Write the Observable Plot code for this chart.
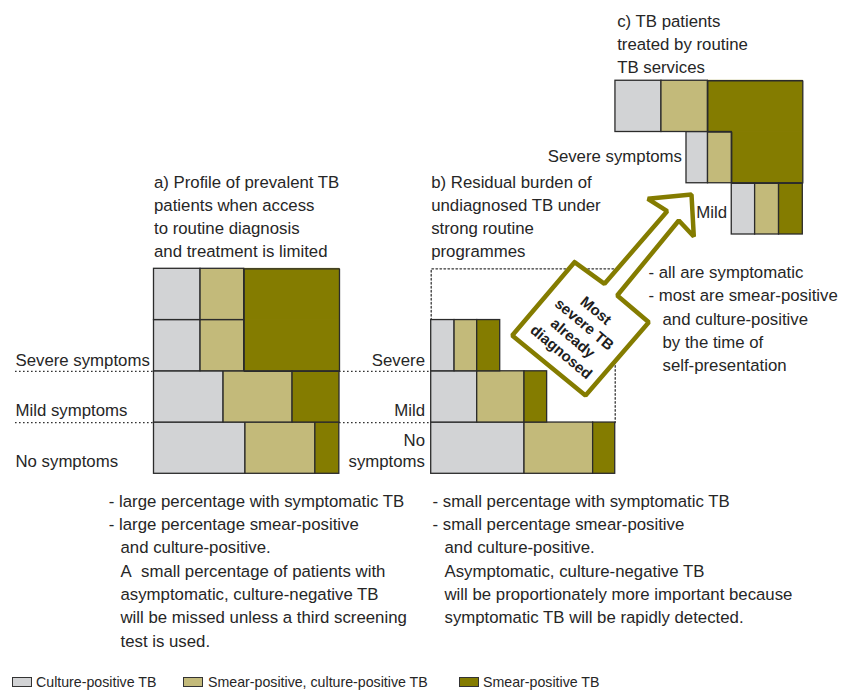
<!DOCTYPE html>
<html><head><meta charset="utf-8">
<script src="https://cdn.jsdelivr.net/npm/d3@7"></script>
<script src="https://cdn.jsdelivr.net/npm/@observablehq/plot@0.6"></script>
<style>
body{margin:0;background:#fff;font-family:'Liberation Sans',Arial,sans-serif;color:#262626}
#chart svg{display:block}
#legend{position:relative;width:848px;height:25px}
.sw{position:absolute;top:9px;width:20px;height:10px;box-sizing:border-box;border:1px solid #333}
.lt{position:absolute;top:6px;font-size:14.2px;line-height:17px;white-space:nowrap}
</style></head><body>
<div id="chart"></div>
<div id="legend"></div>
<script>
// ---------- DATA (widths as % of patients, per symptom row, bottom row first) ----------
const types = ["Culture-positive TB", "Smear-positive, culture-positive TB", "Smear-positive TB"];
const typeColors = ["#d2d3d5", "#c3ba7a", "#847c00"];

const rowsA = ["No symptoms", "Mild symptoms", "Severe symptoms", "Most severe"];
const aCulturePos      = [49.3, 37.5, 25.1, 25.1];
const aSmearCulturePos = [37.7, 37.2, 23.5, 23.5];
const aSmearPos        = [12.9, 25.3, 51.4, 51.4];

const rowsB = ["No symptoms", "Mild", "Severe"];
const bCulturePos      = [50.3, 24.8, 12.6];
const bSmearCulturePos = [37.0, 25.5, 12.2];
const bSmearPos        = [11.9, 12.2, 12.4];

const rowsC = ["Mild", "Severe symptoms", "Most severe"];
const cCulturePos      = [12.6, 11.6, 24.8];
const cSmearCulturePos = [12.9, 12.8, 25.0];
const cSmearPos        = [12.8, 38.3, 51.2];

// ---------- LAYOUT ----------
const W = 848, H = 668, XU = 1.855, YU = 51.25, Y0 = 473.3;
const X = px => px / XU, Y = py => (Y0 - py) / YU;
const olive = typeColors[2];
const ink = "#262626", edge = "#2b2b2b";

const panels = [
  {rows: rowsA, series: [aCulturePos, aSmearCulturePos, aSmearPos], align: "left", anchor: X(153.5), base: 0, merge: [2, 3]},
  {rows: rowsB, series: [bCulturePos, bSmearCulturePos, bSmearPos], align: "left", anchor: X(430.7), base: 0, merge: null},
  {rows: rowsC, series: [cCulturePos, cSmearCulturePos, cSmearPos], align: "right", anchor: X(802.3), base: Y(234), merge: [1, 2]}
];

const cells = [], outlines = [];
panels.forEach((p, pi) => {
  const rowCells = [];
  p.rows.forEach((r, i) => {
    const total = d3.sum(p.series, s => s[i]);
    let x = p.align === "left" ? p.anchor : p.anchor - total;
    const rc = [];
    p.series.forEach((s, k) => {
      const c = {panel: pi, row: r, type: types[k], x1: x, x2: x + s[i], y1: p.base + i, y2: p.base + i + 1,
                 merged: !!(p.merge && k === 2 && p.merge.includes(i))};
      cells.push(c); rc.push(c); x += s[i];
    });
    rowCells.push(rc);
  });
  p.rowCells = rowCells;
  if (p.merge) {
    const lo = rowCells[p.merge[0]][2], up = rowCells[p.merge[1]][2];
    [[up.x1, up.y2], [up.x2, up.y2], [lo.x2, lo.y1], [lo.x1, lo.y1], [lo.x1, lo.y2], [up.x1, up.y1], [up.x1, up.y2]]
      .forEach(([x, y]) => outlines.push({g: pi, x, y}));
  }
});

const bLeft = panels[1].anchor;
const bRight = d3.max(panels[1].rowCells, rc => rc[2].x2);
const dottedRules = [{y: 1, x1: X(15), x2: bLeft}, {y: 2, x1: X(15), x2: bLeft}];
const dottedBox = [{x: bLeft, y: 3}, {x: bLeft, y: 4}, {x: bRight, y: 4}, {x: bRight, y: 1}];

const arrowPx = [[574, 261.7], [604, 283.3], [666.7, 210.7], [647.3, 198.3], [691, 194], [693.3, 236],
                 [678.3, 220], [616.7, 295], [648.3, 321.7], [585, 395], [511.7, 335], [574, 261.7]];
const arrow = arrowPx.map(([px, py]) => ({x: X(px), y: Y(py)}));

const labels = [
  // panel titles
  [153.5, 187.3, "a) Profile of prevalent TB", "start"], [153.5, 210.4, "patients when access", "start"],
  [153.5, 233.5, "to routine diagnosis", "start"], [153.5, 256.6, "and treatment is limited", "start"],
  [430.7, 187.3, "b) Residual burden of", "start"], [430.7, 210.4, "undiagnosed TB under", "start"],
  [430.7, 233.5, "strong routine", "start"], [430.7, 256.6, "programmes", "start"],
  [616.7, 26, "c) TB patients", "start"], [616.7, 49.2, "treated by routine", "start"], [616.7, 72.4, "TB services", "start"],
  // row labels
  [15, 365, "Severe symptoms", "start"], [15, 415, "Mild symptoms", "start"], [15, 466, "No symptoms", "start"],
  [424.5, 365, "Severe", "end"], [424.5, 415, "Mild", "end"], [424.5, 445, "No", "end"], [424.5, 466.5, "symptoms", "end"],
  [681.5, 161.7, "Severe symptoms", "end"], [726.5, 217.5, "Mild", "end"],
  // right annotation
  [648, 277.5, "- all are symptomatic", "start"], [648, 300.8, "- most are smear-positive", "start"],
  [662, 324.1, "and culture-positive", "start"], [662, 347.4, "by the time of", "start"], [662, 370.7, "self-presentation", "start"],
  // bottom notes
  [108.3, 506, "- large percentage with symptomatic TB", "start"], [108.3, 529.3, "- large percentage smear-positive", "start"],
  [120, 552.7, "and culture-positive.", "start"], [120, 576, "A\u00a0 small percentage of patients with", "start"],
  [120, 599.3, "asymptomatic, culture-negative TB", "start"], [120, 622.7, "will be missed unless a third screening", "start"],
  [120, 646, "test is used.", "start"],
  [432, 506, "- small percentage with symptomatic TB", "start"], [432, 529.3, "- small percentage smear-positive", "start"],
  [444, 552.7, "and culture-positive.", "start"], [444, 576, "Asymptomatic, culture-negative TB", "start"],
  [444, 599.3, "will be proportionately more important because", "start"],
  [444, 622.7, "symptomatic TB will be rapidly detected.", "start"]
].map(([px, py, text, anchor]) => ({x: X(px), y: Y(py), text, anchor}));

const boxText = [{x: X(578.6), y: Y(330.2), text: "Most\nsevere TB\nalready\ndiagnosed"}];

const chart = Plot.plot({
  width: W, height: H, margin: 0,
  style: {fontFamily: "'Liberation Sans', Arial, sans-serif", fontSize: "16.8px", color: ink, background: "white"},
  x: {domain: [0, W / XU], range: [0, W], axis: null},
  y: {domain: [(Y0 - H) / YU, Y0 / YU], range: [H, 0], axis: null},
  color: {domain: types, range: typeColors},
  marks: [
    Plot.ruleY(dottedRules, {y: "y", x1: "x1", x2: "x2", stroke: "#333", strokeWidth: 1.3, strokeDasharray: "1.6 2.4"}),
    Plot.line(dottedBox, {x: "x", y: "y", stroke: "#333", strokeWidth: 1.3, strokeDasharray: "1.6 2.4"}),
    Plot.rect(cells.filter(d => d.merged), {x1: "x1", x2: "x2", y1: "y1", y2: "y2", fill: "type", stroke: "type", strokeWidth: 0.8}),
    Plot.rect(cells.filter(d => !d.merged), {x1: "x1", x2: "x2", y1: "y1", y2: "y2", fill: "type", stroke: edge, strokeWidth: 1.3}),
    Plot.line(outlines, {x: "x", y: "y", z: "g", stroke: edge, strokeWidth: 1.3, strokeLinejoin: "miter"}),
    Plot.line(arrow, {x: "x", y: "y", fill: "white", stroke: olive, strokeWidth: 4.5, strokeLinejoin: "miter"}),
    Plot.text(boxText, {x: "x", y: "y", text: "text", rotate: 40, fontWeight: "bold", fontSize: 15, lineHeight: 1.2,
                        textAnchor: "middle", lineAnchor: "middle", fill: "#1e1e1e"}),
    Plot.text(labels.filter(d => d.anchor === "start"), {x: "x", y: "y", text: "text", textAnchor: "start", lineAnchor: "bottom", fontSize: 16.8, fill: ink}),
    Plot.text(labels.filter(d => d.anchor === "end"), {x: "x", y: "y", text: "text", textAnchor: "end", lineAnchor: "bottom", fontSize: 16.8, fill: ink})
  ]
});
document.getElementById("chart").appendChild(chart);

// legend
const legendPos = [[12, 36], [183, 208], [459, 483]];
const lg = document.getElementById("legend");
types.forEach((t, i) => {
  const sw = document.createElement("div");
  sw.className = "sw"; sw.style.left = legendPos[i][0] + "px"; sw.style.background = typeColors[i];
  const tx = document.createElement("span");
  tx.className = "lt"; tx.style.left = legendPos[i][1] + "px"; tx.textContent = t;
  lg.appendChild(sw); lg.appendChild(tx);
});
</script></body></html>
